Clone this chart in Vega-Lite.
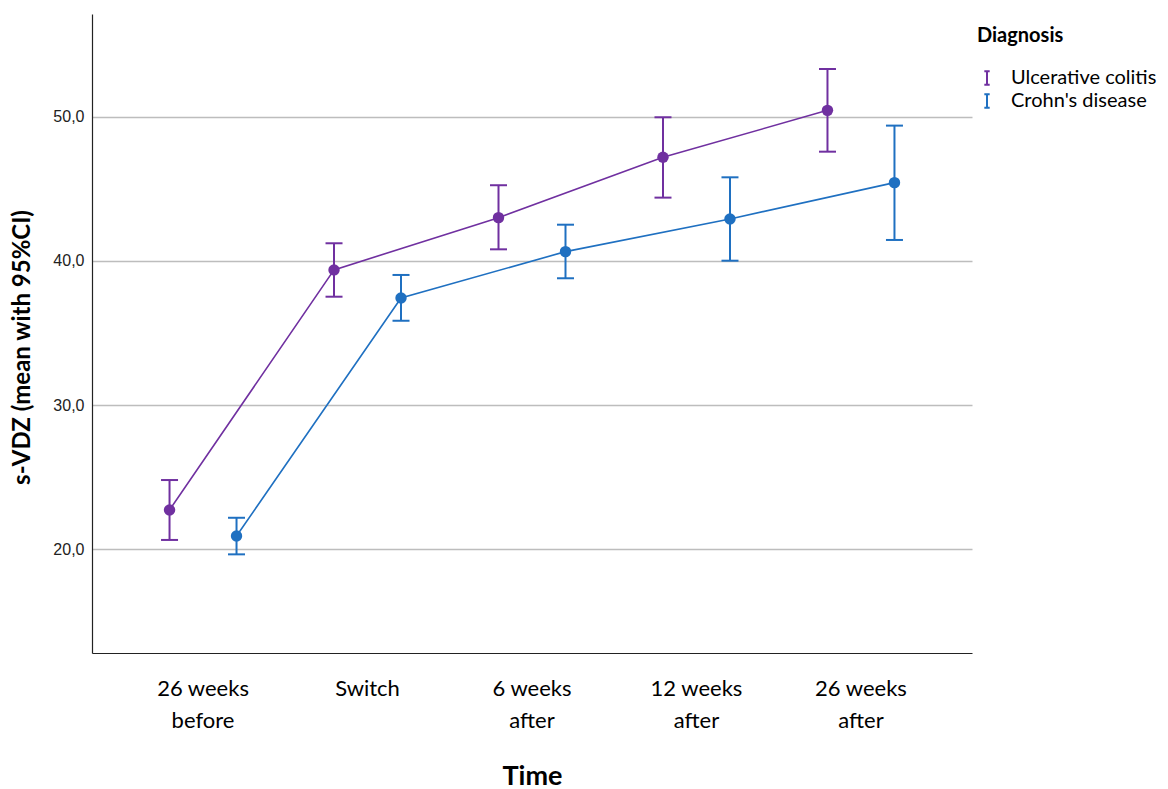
{
  "$schema": "https://vega.github.io/schema/vega-lite/v6.json",
  "autosize": "none",
  "width": 880,
  "height": 639,
  "padding": {"left": 92, "top": 14, "right": 196, "bottom": 136},
  "background": "white",
  "config": {"view": {"stroke": null}},
  "data": {"values": [
    {"time": "26 weeks before", "diagnosis": "Ulcerative colitis", "mean": 22.71, "lo": 20.63, "hi": 24.79},
    {"time": "26 weeks before", "diagnosis": "Crohn's disease", "mean": 20.90, "lo": 19.63, "hi": 22.17},
    {"time": "Switch", "diagnosis": "Ulcerative colitis", "mean": 39.38, "lo": 37.52, "hi": 41.23},
    {"time": "Switch", "diagnosis": "Crohn's disease", "mean": 37.43, "lo": 35.85, "hi": 39.03},
    {"time": "6 weeks after", "diagnosis": "Ulcerative colitis", "mean": 43.01, "lo": 40.81, "hi": 45.26},
    {"time": "6 weeks after", "diagnosis": "Crohn's disease", "mean": 40.65, "lo": 38.80, "hi": 42.52},
    {"time": "12 weeks after", "diagnosis": "Ulcerative colitis", "mean": 47.20, "lo": 44.40, "hi": 49.98},
    {"time": "12 weeks after", "diagnosis": "Crohn's disease", "mean": 42.92, "lo": 40.02, "hi": 45.81},
    {"time": "26 weeks after", "diagnosis": "Ulcerative colitis", "mean": 50.46, "lo": 47.59, "hi": 53.33},
    {"time": "26 weeks after", "diagnosis": "Crohn's disease", "mean": 45.44, "lo": 41.46, "hi": 49.40}
  ]},
  "encoding": {
    "x": {
      "field": "time", "type": "nominal",
      "sort": ["26 weeks before", "Switch", "6 weeks after", "12 weeks after", "26 weeks after"],
      "scale": {"paddingInner": 0, "paddingOuter": 0.175},
      "axis": {
        "title": "Time",
        "titleFont": "Lato", "titleFontSize": 27, "titleFontWeight": "bold", "titleColor": "#000",
        "titleBaseline": "alphabetic", "titleY": 131,
        "labelFont": "Lato", "labelFontSize": 22, "labelColor": "#000",
        "labelAngle": 0, "labelPadding": 25, "labelLineHeight": 32, "labelBaseline": "top",
        "labelExpr": "indexof(datum.label,'weeks ') >= 0 ? [slice(datum.label,0,indexof(datum.label,'weeks ')+5), slice(datum.label,indexof(datum.label,'weeks ')+6)] : datum.label",
        "ticks": false, "domainColor": "#222", "domainWidth": 1.2, "grid": false
      }
    },
    "xOffset": {
      "field": "diagnosis", "type": "nominal",
      "sort": ["Ulcerative colitis", "Crohn's disease"],
      "scale": {"paddingInner": 0, "paddingOuter": 0.2277}
    },
    "color": {
      "field": "diagnosis", "type": "nominal",
      "sort": ["Ulcerative colitis", "Crohn's disease"],
      "scale": {"domain": ["Ulcerative colitis", "Crohn's disease"], "range": ["#7030a0", "#1f70c1"]},
      "legend": {
        "title": "Diagnosis", "orient": "none", "legendX": 885, "legendY": 12,
        "titleFont": "Lato", "titleFontSize": 20, "titleFontWeight": "bold", "titleColor": "#000", "titlePadding": 22,
        "labelFont": "Lato", "labelFontSize": 20, "labelColor": "#000", "labelOffset": 14,
        "symbolType": "M-0.4,-1H0.4M0,-1V1M-0.4,1H0.4", "symbolSize": 180, "symbolStrokeWidth": 2,
        "rowPadding": 1,
        "encode": {"symbols": {"update": {"stroke": {"scale": "color", "field": "value"}, "fill": {"value": "transparent"}, "strokeWidth": {"value": 2}}}}
      }
    }
  },
  "layer": [
    {
      "mark": {"type": "line", "strokeWidth": 1.6},
      "encoding": {
        "y": {
          "field": "mean", "type": "quantitative",
          "scale": {"domain": [12.78, 57.15], "nice": false, "zero": false},
          "axis": {
            "title": "s-VDZ (mean with 95%CI)",
            "titleFont": "Lato", "titleFontSize": 24, "titleFontWeight": "bold", "titleColor": "#000",
            "titleX": -70, "titleY": 333, "titleBaseline": "middle", "titleAngle": -90,
            "values": [20, 30, 40, 50],
            "labelExpr": "replace(format(datum.value, '.1f'), '.', ',')",
            "labelFont": "Liberation Sans", "labelFontSize": 16, "labelColor": "#222", "labelPadding": 8,
            "ticks": false, "domainColor": "#222", "domainWidth": 1.2,
            "grid": true, "gridColor": "#bdbdbd", "gridWidth": 1.5
          }
        }
      }
    },
    {
      "mark": {"type": "rule", "strokeWidth": 2},
      "encoding": {"y": {"field": "lo", "type": "quantitative"}, "y2": {"field": "hi"}}
    },
    {
      "mark": {"type": "tick", "orient": "horizontal", "size": 17, "thickness": 2, "opacity": 1},
      "encoding": {"y": {"field": "lo", "type": "quantitative"}}
    },
    {
      "mark": {"type": "tick", "orient": "horizontal", "size": 17, "thickness": 2, "opacity": 1},
      "encoding": {"y": {"field": "hi", "type": "quantitative"}}
    },
    {
      "mark": {"type": "point", "filled": true, "size": 130, "opacity": 1},
      "encoding": {"y": {"field": "mean", "type": "quantitative"}}
    }
  ]
}
